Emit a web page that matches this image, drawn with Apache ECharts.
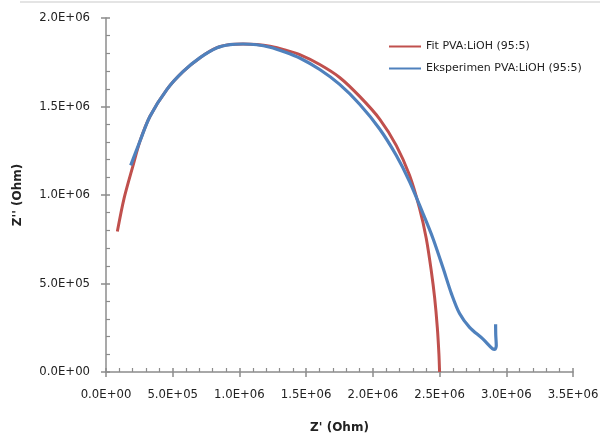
<!DOCTYPE html>
<html><head><meta charset="utf-8">
<script src="https://cdn.jsdelivr.net/npm/echarts@6/dist/echarts.min.js"></script>
<style>html,body{margin:0;padding:0;background:#fff}#c{width:602px;height:439px}</style>
</head><body><div id="c"></div>
<script>
// Fit PVA:LiOH (95:5) — [Z' , Z''] in Ohm
var fitX = [0.085e6,0.135e6,0.202e6,0.255e6,0.33e6,0.457e6,0.577e6,0.705e6,0.832e6,0.93e6,1.027e6,1.13e6,1.229e6,1.34e6,1.452e6,1.602e6,1.751e6,1.901e6,2.051e6,2.176e6,2.275e6,2.35e6,2.40e6,2.438e6,2.463e6,2.483e6,2.495e6,2.5e6];
var fitY = [0.794e6,0.98e6,1.165e6,1.305e6,1.445e6,1.597e6,1.697e6,1.776e6,1.832e6,1.850e6,1.853e6,1.850e6,1.840e6,1.820e6,1.793e6,1.737e6,1.664e6,1.557e6,1.429e6,1.279e6,1.111e6,0.924e6,0.756e6,0.571e6,0.420e6,0.252e6,0.103e6,0];
// Eksperimen PVA:LiOH (95:5)
var expX = [0.185e6,0.255e6,0.33e6,0.457e6,0.577e6,0.705e6,0.832e6,0.93e6,1.027e6,1.13e6,1.229e6,1.34e6,1.452e6,1.602e6,1.751e6,1.901e6,2.051e6,2.176e6,2.275e6,2.37e6,2.45e6,2.525e6,2.59e6,2.65e6,2.725e6,2.824e6,2.897e6,2.915e6,2.925e6,2.921e6,2.92e6];
var expY = [1.167e6,1.305e6,1.445e6,1.597e6,1.697e6,1.776e6,1.832e6,1.850e6,1.853e6,1.849e6,1.835e6,1.808e6,1.774e6,1.709e6,1.625e6,1.513e6,1.373e6,1.223e6,1.076e6,0.906e6,0.756e6,0.59e6,0.44e6,0.33e6,0.252e6,0.187e6,0.131e6,0.128e6,0.15e6,0.21e6,0.27e6];
var xTicks = {min:0, max:3.5e6, interval:0.5e6};
var yTicks = {min:0, max:2.0e6, interval:0.5e6};
var names = ['Fit PVA:LiOH (95:5)','Eksperimen PVA:LiOH (95:5)'];

function fmt(v){
  var s = Number(v).toExponential(1).toUpperCase();
  var m = s.split('E'); var e = parseInt(m[1],10);
  var sign = e<0?'-':'+'; e=Math.abs(e);
  return m[0]+'E'+sign+(e<10?'0':'')+e;
}
function zip(a,b){return a.map(function(v,i){return [v,b[i]];});}
var FONT = 'DejaVu Sans';
var axisCol = '#8c8c8c';
var chart = echarts.init(document.getElementById('c'));
function baseX(extra){return Object.assign({type:'value',min:xTicks.min,max:xTicks.max,interval:xTicks.interval,splitLine:{show:false},position:'bottom'},extra);}
function baseY(extra){return Object.assign({type:'value',min:yTicks.min,max:yTicks.max,interval:yTicks.interval,splitLine:{show:false},position:'left'},extra);}
chart.setOption({
  animation:false,
  backgroundColor:'#fff',
  grid:{left:106,right:29,top:18,bottom:64,containLabel:false},
  legend:{
    orient:'vertical', left:384, top:36, itemWidth:32, itemHeight:2, itemGap:11,
    icon:'rect', data:names,
    textStyle:{fontFamily:FONT,fontSize:11,color:'#222'}
  },
  xAxis:[
    baseX({axisLine:{lineStyle:{color:axisCol,width:1.5}},axisTick:{show:true,length:5,lineStyle:{color:axisCol,width:1.5}},
      axisLabel:{formatter:fmt,margin:17,fontFamily:FONT,fontSize:11.7,color:'#222'},
      name:"Z' (Ohm)",nameLocation:'middle',nameGap:50,nameTextStyle:{fontFamily:FONT,fontSize:12,fontWeight:'bold',color:'#222'}}),
    baseX({axisLine:{show:false},axisLabel:{show:false},axisTick:{show:true,inside:true,length:4,lineStyle:{color:axisCol,width:1.5}},
      minorTick:{show:true,splitNumber:5,length:4,lineStyle:{color:axisCol,width:1.2}}})
  ],
  yAxis:[
    baseY({axisLine:{show:true,lineStyle:{color:axisCol,width:1.5}},axisTick:{show:true,length:5,lineStyle:{color:axisCol,width:1.5}},
      axisLabel:{formatter:fmt,margin:16,fontFamily:FONT,fontSize:11.7,color:'#222'},
      name:"Z'' (Ohm)",nameLocation:'middle',nameGap:82,nameTextStyle:{fontFamily:FONT,fontSize:12,fontWeight:'bold',color:'#222'}}),
    baseY({axisLine:{show:false},axisLabel:{show:false},axisTick:{show:true,inside:true,length:4,lineStyle:{color:axisCol,width:1.5}},
      minorTick:{show:true,splitNumber:5,length:4,lineStyle:{color:axisCol,width:1.2}}})
  ],
  graphic:[{type:'line',shape:{x1:20,y1:2,x2:600,y2:2},style:{stroke:'#e4e4e4',lineWidth:2}}],
  series:[
    {name:names[0],type:'line',data:zip(fitX,fitY),smooth:0.3,showSymbol:false,symbol:'none',color:'#C0504D',lineStyle:{width:3,color:'#C0504D'},z:2},
    {name:names[1],type:'line',data:zip(expX,expY),smooth:0.3,showSymbol:false,symbol:'none',color:'#4F81BD',lineStyle:{width:3.2,color:'#4F81BD'},z:3}
  ]
});
</script></body></html>
